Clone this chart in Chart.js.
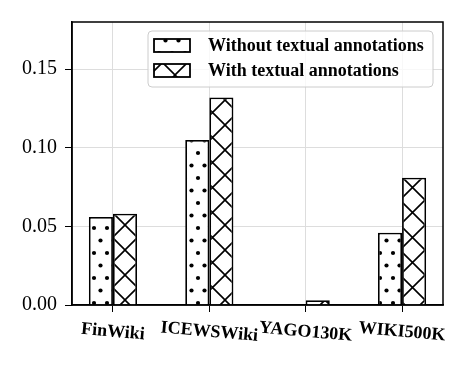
<!DOCTYPE html>
<html lang="en">
<head>
    <meta charset="UTF-8">
    <title>Textual annotations</title>
    <script src="https://cdn.jsdelivr.net/npm/chart.js@4.4.1/dist/chart.umd.min.js"></script>
    <style>
        body {
            margin: 0;
            background: white;
        }
    </style>
</head>
<body>
    <canvas id="barChart" width="469" height="367"></canvas>

    <script>
        // data
        const categories = ['FinWiki', 'ICEWSWiki', 'YAGO130K', 'WIKI500K'];
        const seriesNames = ['Without textual annotations', 'With textual annotations'];
        const withoutValues = [0.056, 0.105, 0.0, 0.046];
        const withValues = [0.058, 0.132, 0.003, 0.081];
        const yTicks = [0.00, 0.05, 0.10, 0.15];

        // hatch patterns
        function dotPattern() {
            const c = document.createElement('canvas');
            c.width = 13; c.height = 25;
            const g = c.getContext('2d');
            g.fillStyle = 'white';
            g.fillRect(0, 0, 13, 25);
            g.fillStyle = 'black';
            [[3, 3], [9.5, 15.5]].forEach(([x, y]) => {
                g.beginPath();
                g.arc(x, y, 2.1, 0, Math.PI * 2);
                g.fill();
            });
            return g.createPattern(c, 'repeat');
        }

        function crossPattern() {
            const c = document.createElement('canvas');
            c.width = 25; c.height = 25;
            const g = c.getContext('2d');
            g.fillStyle = 'white';
            g.fillRect(0, 0, 25, 25);
            g.strokeStyle = 'black';
            g.lineWidth = 1.6;
            g.beginPath();
            g.moveTo(-2, -2); g.lineTo(27, 27);
            g.moveTo(-2, 27); g.lineTo(27, -2);
            g.stroke();
            return g.createPattern(c, 'repeat');
        }

        const patterns = [dotPattern(), crossPattern()];

        // frame + rotated x labels + legend inside plot
        const extras = {
            id: 'extras',
            afterDraw(chart) {
                const ctx = chart.ctx;
                const a = chart.chartArea;
                ctx.save();
                ctx.strokeStyle = 'black';
                ctx.lineWidth = 1.5;
                ctx.strokeRect(a.left, a.top, a.right - a.left, a.bottom - a.top);

                const xs = chart.scales.x;
                ctx.fillStyle = 'black';
                ctx.font = 'bold 18px "Liberation Serif"';
                ctx.textAlign = 'center';
                ctx.textBaseline = 'middle';
                categories.forEach((name, i) => {
                    ctx.save();
                    ctx.translate(xs.getPixelForValue(i), a.bottom + 27);
                    ctx.rotate(5 * Math.PI / 180);
                    ctx.fillText(name, 0, 0);
                    ctx.restore();
                });

                // legend
                const lx = 148, ly = 31, lw = 285, lh = 56;
                ctx.beginPath();
                ctx.roundRect(lx, ly, lw, lh, 4);
                ctx.fillStyle = 'rgba(255,255,255,0.8)';
                ctx.fill();
                ctx.strokeStyle = '#cccccc';
                ctx.lineWidth = 1;
                ctx.stroke();

                ctx.font = 'bold 18px "Liberation Serif"';
                ctx.textAlign = 'left';
                chart.data.datasets.forEach((ds, i) => {
                    const cy = 45.5 + i * 25;
                    ctx.fillStyle = ds.backgroundColor;
                    ctx.fillRect(154, cy - 6.5, 36, 13);
                    ctx.strokeStyle = 'black';
                    ctx.lineWidth = 1.8;
                    ctx.strokeRect(154, cy - 6.5, 36, 13);
                    ctx.fillStyle = 'black';
                    ctx.fillText(ds.label, 208, cy + 1);
                });
                ctx.restore();
            }
        };

        const ctx = document.getElementById('barChart').getContext('2d');
        new Chart(ctx, {
            type: 'bar',
            data: {
                datasets: [
                    {
                        label: seriesNames[0],
                        data: withoutValues.map((v, i) => ({ x: i, y: v })),
                        backgroundColor: patterns[0],
                        borderColor: 'black',
                        borderWidth: 1.8
                    },
                    {
                        label: seriesNames[1],
                        data: withValues.map((v, i) => ({ x: i, y: v })),
                        backgroundColor: patterns[1],
                        borderColor: 'black',
                        borderWidth: 1.8
                    }
                ]
            },
            options: {
                responsive: false,
                animation: false,
                categoryPercentage: 0.5,
                barPercentage: 1.0,
                layout: {
                    padding: { left: 0, top: 22, right: 26, bottom: 0 }
                },
                plugins: {
                    legend: { display: false },
                    tooltip: { enabled: false }
                },
                scales: {
                    x: {
                        type: 'linear',
                        offset: false,
                        min: -0.425,
                        max: 3.425,
                        afterFit: s => { s.height = 62; },
                        afterBuildTicks: s => { s.ticks = categories.map((c, i) => ({ value: i })); },
                        ticks: {
                            display: false
                        },
                        grid: {
                            offset: false,
                            color: '#dddddd',
                            tickColor: 'black',
                            tickLength: 7,
                            lineWidth: 1
                        },
                        border: { color: 'black', width: 1.5 }
                    },
                    y: {
                        min: 0,
                        max: 0.18,
                        afterFit: s => { s.width = 72; },
                        afterBuildTicks: s => { s.ticks = yTicks.map(v => ({ value: v })); },
                        ticks: {
                            padding: 8,
                            color: 'black',
                            font: { family: 'Liberation Serif', size: 20 },
                            callback: v => v.toFixed(2)
                        },
                        grid: {
                            color: '#dddddd',
                            tickColor: 'black',
                            tickLength: 7,
                            lineWidth: 1
                        },
                        border: { color: 'black', width: 1.5 }
                    }
                }
            },
            plugins: [extras]
        });
    </script>
</body>
</html>
